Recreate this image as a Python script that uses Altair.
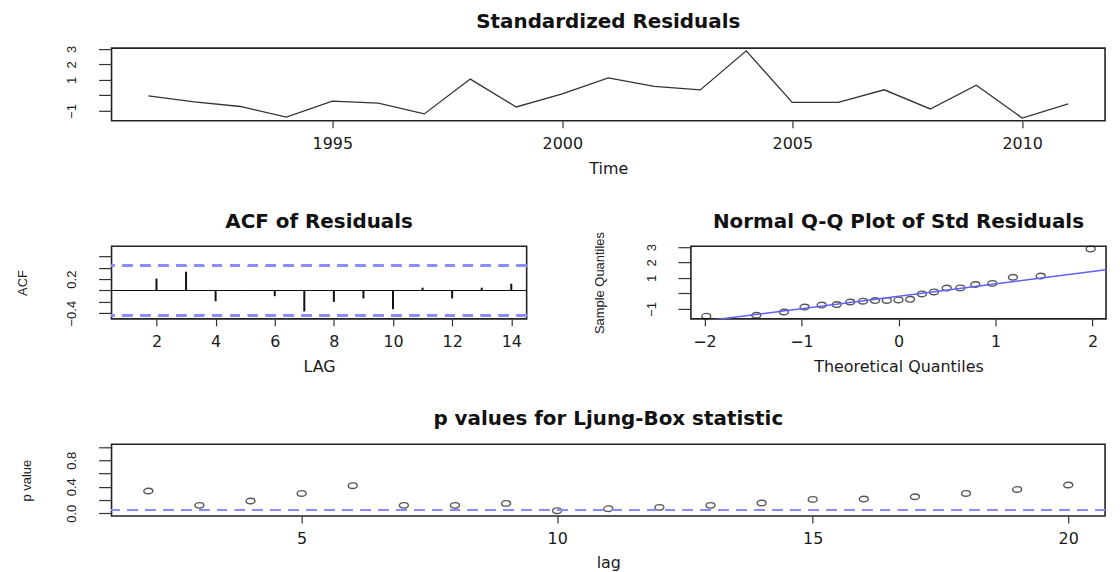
import altair as alt
import pandas as pd
import numpy as np
from statistics import NormalDist

# ---------------- data ----------------
years = list(range(1991, 2012))
std_resid = [-0.03, -0.42, -0.72, -1.41, -0.38, -0.50, -1.20, 1.05, -0.75, 0.10,
             1.13, 0.58, 0.35, 2.88, -0.46, -0.45, 0.36, -0.88, 0.65, -1.47, -0.55]

acf_lags = list(range(1, 15))
acf_vals = [0.01, 0.21, 0.33, -0.19, -0.01, -0.10, -0.37, -0.20, -0.14, -0.33,
            0.05, -0.14, 0.05, 0.12]

lb_lags = list(range(2, 21))
lb_pvals = [0.337, 0.12, 0.186, 0.30, 0.417, 0.12, 0.12, 0.15, 0.04, 0.07,
            0.09, 0.12, 0.156, 0.21, 0.216, 0.25, 0.30, 0.36, 0.427]

p_threshold = 0.05
n = len(std_resid)
acf_bound = 2 / np.sqrt(n)

# ---------------- derived tables ----------------
resid_df = pd.DataFrame({"year": years, "resid": std_resid})
acf_df = pd.DataFrame({"lag": acf_lags, "acf": acf_vals})
lb_df = pd.DataFrame({"lag": lb_lags, "p": lb_pvals})

srt = sorted(std_resid)
nd = NormalDist()
theo = [nd.inv_cdf((i + 0.5) / n) for i in range(n)]
qq_df = pd.DataFrame({"theo": theo, "sample": srt})
q1, q3 = np.quantile(std_resid, [0.25, 0.75])
z1, z3 = nd.inv_cdf(0.25), nd.inv_cdf(0.75)
slope = (q3 - q1) / (z3 - z1)
intercept = q1 - slope * z1


def rrange(lo, hi):
    d = (hi - lo) * 0.04
    return [lo - d, hi + d]


top_x = rrange(min(years), max(years))
top_y = rrange(min(std_resid), max(std_resid))
acf_x = rrange(min(acf_lags), max(acf_lags))
acf_y = [-0.5, 0.78]
qq_x = rrange(min(theo), max(theo))
qq_y = rrange(min(srt), max(srt))
lb_x = rrange(min(lb_lags), max(lb_lags))
lb_y = rrange(0, 1)

qqline_df = pd.DataFrame({"theo": qq_x, "sample": [intercept + slope * v for v in qq_x]})

# ---------------- styles ----------------
FONT = "DejaVu Sans"
RFONT = "Liberation Sans"
TXT = "#1a1a1a"
BLUE_DASH = "#8c8cff"
ELLIPSE = "M-1,0 A1,0.62 0 1,0 1,0 A1,0.62 0 1,0 -1,0 Z"


def xaxis(values, title, fmt="d", title_y=48):
    return alt.Axis(values=values, format=fmt, title=title, domain=False, grid=False,
                    tickSize=7, tickColor="#333", tickWidth=1.2,
                    labelFont=FONT, labelFontSize=16, labelColor=TXT,
                    labelBaseline="middle", labelPadding=16, labelFlush=False,
                    labelOverlap=False,
                    titleFont=FONT, titleFontSize=16, titleFontWeight="normal",
                    titleColor=TXT, titleY=title_y, titleBaseline="middle")


def yaxis(values, shown, title, title_x, fmt):
    cond = " || ".join(f"abs(datum.value - ({v})) < 1e-6" for v in shown)
    kw = dict(values=values, format=fmt, domain=False, grid=False,
              tickSize=13, tickColor="#333", tickWidth=1.2,
              labelExpr=f"({cond}) ? datum.label : ''",
              labelAngle=270, labelAlign="center", labelBaseline="middle",
              labelPadding=27, labelOverlap=False,
              labelFont=RFONT, labelFontSize=13, labelColor=TXT)
    if title:
        kw.update(title=title, titleFont=RFONT, titleFontSize=13,
                  titleFontWeight="normal", titleColor=TXT, titleX=title_x,
                  titleBaseline="middle", titleAngle=270)
    else:
        kw.update(title=None)
    return alt.Axis(**kw)


def ttl(text, offset):
    return alt.TitleParams(text, font=FONT, fontSize=20, fontWeight="bold",
                           color="#111", anchor="middle", baseline="middle", offset=offset)


# ---------------- top: standardized residuals ----------------
top = alt.Chart(resid_df).mark_line(color="#333", strokeWidth=1.3).encode(
    x=alt.X("year:Q", scale=alt.Scale(domain=top_x, nice=False, zero=False),
            axis=xaxis([1995, 2000, 2005, 2010], "Time")),
    y=alt.Y("resid:Q", scale=alt.Scale(domain=top_y, nice=False, zero=False),
            axis=yaxis([-1, 0, 1, 2, 3], [-1, 1, 2, 3], None, 0, "d")),
).properties(width=998, height=73, title=ttl("Standardized Residuals", 3))

# ---------------- ACF ----------------
acf_xs = alt.Scale(domain=acf_x, nice=False, zero=False)
acf_ys = alt.Scale(domain=acf_y, nice=False, zero=False)
acf_xax = xaxis([2, 4, 6, 8, 10, 12, 14], "LAG")
acf_yax = yaxis([-0.4, -0.2, 0, 0.2, 0.4, 0.6], [-0.4, 0.2], "ACF", -89, ".1f")
acf_base = alt.Chart(acf_df)
acf_bars = acf_base.mark_rule(color="#111", strokeWidth=2).encode(
    x=alt.X("lag:Q", scale=acf_xs, axis=acf_xax),
    y=alt.Y("acf:Q", scale=acf_ys, axis=acf_yax),
    y2=alt.datum(0),
)
acf_zero = acf_base.mark_rule(color="#111", strokeWidth=1.2).encode(
    y=alt.YDatum(0, scale=acf_ys, axis=acf_yax))
acf_up = acf_base.mark_rule(color=BLUE_DASH, strokeWidth=2, strokeDash=[10, 8]).encode(
    y=alt.YDatum(float(acf_bound), scale=acf_ys, axis=acf_yax))
acf_lo = acf_base.mark_rule(color=BLUE_DASH, strokeWidth=2, strokeDash=[10, 8]).encode(
    y=alt.YDatum(float(-acf_bound), scale=acf_ys, axis=acf_yax))
acf = alt.layer(acf_bars, acf_zero, acf_up, acf_lo).properties(
    width=417, height=73, title=ttl("ACF of Residuals", 4.5))

# ---------------- Normal Q-Q ----------------
qq_xs = alt.Scale(domain=qq_x, nice=False, zero=False)
qq_ys = alt.Scale(domain=qq_y, nice=False, zero=False)
qq_xax = xaxis([-2, -1, 0, 1, 2], "Theoretical Quantiles")
qq_yax = yaxis([-1, 0, 1, 2, 3], [-1, 1, 2, 3], "Sample Quantiles", -92, "d")
qq_pts = alt.Chart(qq_df).mark_point(shape=ELLIPSE, size=81, filled=False,
                                     color="#111", strokeWidth=1.4).encode(
    x=alt.X("theo:Q", scale=qq_xs, axis=qq_xax),
    y=alt.Y("sample:Q", scale=qq_ys, axis=qq_yax),
)
qq_line = alt.Chart(qqline_df).mark_line(color="#6060ff", strokeWidth=1.5, clip=True).encode(
    x=alt.X("theo:Q", scale=qq_xs, axis=qq_xax),
    y=alt.Y("sample:Q", scale=qq_ys, axis=qq_yax))
qq = alt.layer(qq_pts, qq_line).properties(
    width=417, height=73, title=ttl("Normal Q-Q Plot of Std Residuals", -10.5))

# ---------------- Ljung-Box p values ----------------
lb_xs = alt.Scale(domain=lb_x, nice=False, zero=False)
lb_ys = alt.Scale(domain=lb_y, nice=False, zero=False)
lb_xax = xaxis([5, 10, 15, 20], "lag", title_y=47)
lb_yax = yaxis([0, 0.2, 0.4, 0.6, 0.8, 1.0], [0, 0.4, 0.8], "p value", -85, ".1f")
lb_pts = alt.Chart(lb_df).mark_point(shape=ELLIPSE, size=81, filled=False,
                                     color="#111", strokeWidth=1.4).encode(
    x=alt.X("lag:Q", scale=lb_xs, axis=lb_xax),
    y=alt.Y("p:Q", scale=lb_ys, axis=lb_yax),
)
lb_line = alt.Chart(lb_df).mark_rule(color=BLUE_DASH, strokeWidth=2, strokeDash=[10, 8]).encode(
    y=alt.YDatum(p_threshold, scale=lb_ys, axis=lb_yax))
lb = alt.layer(lb_pts, lb_line).properties(
    width=998, height=72, title=ttl("p values for Ljung-Box statistic", 5))

row1 = alt.hconcat(top, bounds="flush")
row2 = alt.hconcat(acf, qq, spacing=165, bounds="flush")
row3 = alt.hconcat(lb, bounds="flush")
chart = alt.vconcat(row1, row2, row3, spacing=199, bounds="flush").properties(
    padding={"left": 8, "top": 2, "right": 5, "bottom": 5},
    background="white",
).configure_view(stroke="#222", strokeWidth=1.6, fill="white")

chart.save("out.html", embed_options={"renderer": "svg", "actions": False})
